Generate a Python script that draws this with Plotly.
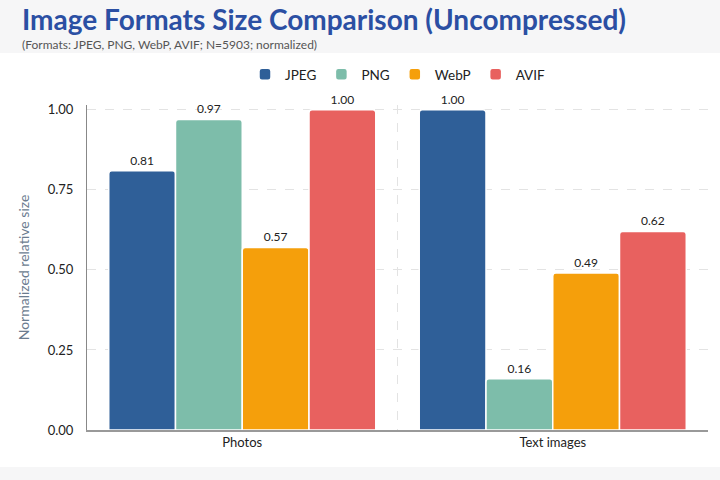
import plotly.graph_objects as go

categories = ["Photos", "Text images"]
formats = ["JPEG", "PNG", "WebP", "AVIF"]
jpeg = [0.81, 1.00]
png = [0.97, 0.16]
webp = [0.57, 0.49]
avif = [1.00, 0.62]
colors = ["#2f5f98", "#7dbdaa", "#f59f0b", "#e8615f"]
yticks = [0.0, 0.25, 0.5, 0.75, 1.0]

series = [jpeg, png, webp, avif]
font_family = "Lato, Open Sans, sans-serif"

PLOT_TOP, PLOT_BOTTOM = 105, 430
PH = PLOT_BOTTOM - PLOT_TOP


def ypix(p):
    return 1 + (PLOT_TOP - p) / PH


fig = go.Figure()
for name, vals, col in zip(formats, series, colors):
    fig.add_trace(go.Bar(
        name=name, x=categories, y=vals,
        marker=dict(color=col, line=dict(color="white", width=1.5)),
        text=[f"{v:.2f}" for v in vals], textposition="outside",
        textfont=dict(size=12, color="#222", family=font_family),
        cliponaxis=False,
    ))

fig.update_layout(
    width=720, height=480,
    barmode="group", bargap=0.14, bargroupgap=0.0, barcornerradius=3,
    paper_bgcolor="#f6f6f7", plot_bgcolor="white",
    margin=dict(l=87, r=12, t=PLOT_TOP, b=480 - PLOT_BOTTOM),
    font=dict(family=font_family, color="#222"),
    legend=dict(orientation="h", x=0.5, xanchor="center", y=ypix(90), yanchor="bottom",
                font=dict(size=13.5, color="#222"), bgcolor="rgba(0,0,0,0)",
                itemwidth=30, traceorder="normal"),
    annotations=[
        dict(text="<b>Image Formats Size Comparison (Uncompressed)</b>", xref="paper", yref="paper",
             x=-0.108, xanchor="left", y=ypix(0), yanchor="top", showarrow=False,
             font=dict(size=28, color="#2b4fa3", family=font_family)),
        dict(text="(Formats: JPEG, PNG, WebP, AVIF; N=5903; normalized)", xref="paper", yref="paper",
             x=-0.108, xanchor="left", y=ypix(35), yanchor="top", showarrow=False,
             font=dict(size=12, color="#555", family=font_family)),
    ],
    shapes=[dict(type="rect", xref="paper", yref="paper", x0=-0.2, x1=1.1,
                 y0=ypix(467), y1=ypix(53), fillcolor="white", line=dict(width=0), layer="below")],
)
fig.update_yaxes(range=[0, 1.015], tickvals=yticks, ticktext=[f"{t:.2f}" for t in yticks],
                 showgrid=True, gridcolor="#e3e3e3", griddash="dash", gridwidth=1,
                 showline=True, linecolor="#888", linewidth=1, zeroline=False,
                 ticks="", ticklabelstandoff=10, tickfont=dict(size=13, color="#222"),
                 title=dict(text="Normalized relative size", font=dict(size=14, color="#6b7c8f"), standoff=14))
fig.update_xaxes(showgrid=True, tickson="boundaries", gridcolor="#e3e3e3", griddash="dash",
                 showline=True, linecolor="#999", linewidth=1.5, ticks="",
                 tickfont=dict(size=13, color="#222"))

fig.write_html("out.html")
